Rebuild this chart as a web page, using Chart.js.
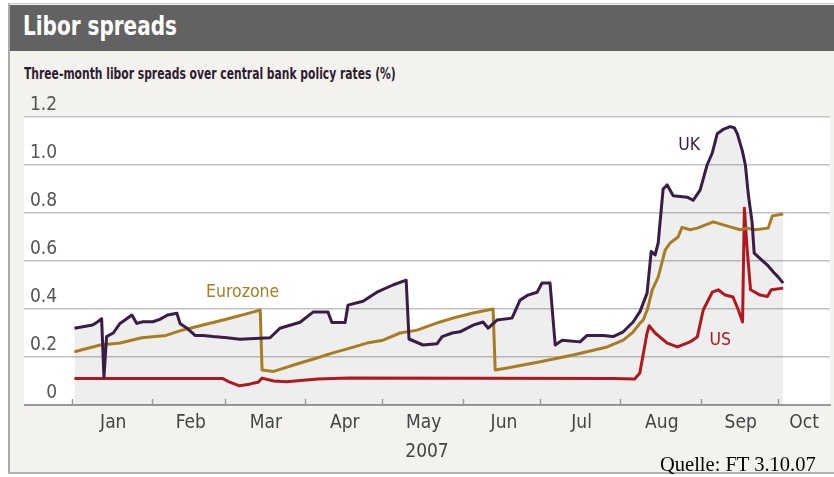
<!DOCTYPE html>
<html>
<head>
<meta charset="utf-8">
<script src="https://cdn.jsdelivr.net/npm/chart.js@4/dist/chart.umd.min.js"></script>
<style>
  body { margin: 0; background: #fff; width: 834px; height: 477px; position: relative; overflow: hidden; }
  #frame { position: absolute; left: 8px; top: 3px; width: 826px; height: 471px; background: #f4f2ee;
           border-left: 2px solid #a9a9a9; border-top: 1px solid #c8c8c8; border-bottom: 2px solid #b5b5b5; box-sizing: border-box; }
  #bar { position: absolute; left: 10px; top: 5px; width: 824px; height: 46px; background: #626262; }
  #bar span { position: absolute; left: 13px; top: 6px; color: #fff; white-space: nowrap;
              font: bold 26px 'DejaVu Sans Condensed', 'DejaVu Sans', sans-serif;
              transform: scaleX(0.855); transform-origin: 0 0; }
  #sub { position: absolute; left: 24px; top: 64px; color: #2e1d2e; white-space: nowrap;
         font: bold 16.5px 'DejaVu Sans Condensed', 'DejaVu Sans', sans-serif;
         transform: scaleX(0.725); transform-origin: 0 0; }
  #chart { position: absolute; left: 24px; top: 90px; }
  #src { position: absolute; left: 660px; top: 453px; color: #000; font: 20.5px 'Liberation Serif', serif; }
</style>
</head>
<body>
<div id="frame"></div>
<div id="bar"><span>Libor spreads</span></div>
<div id="sub">Three-month libor spreads over central bank policy rates (%)</div>
<canvas id="chart" width="810" height="387"></canvas>
<div id="src">Quelle: FT 3.10.07</div>
<script>
  'use strict';

  // x = days since 1 Jan 2007, y = spread in %
  const ukPoints = [
    [1, 0.32], [8, 0.333], [10, 0.347], [11.5, 0.36], [12.4, 0.115], [13.4, 0.285], [16, 0.30], [18.6, 0.34],
    [20.5, 0.354], [23.2, 0.375], [25.1, 0.34], [27.5, 0.347], [31.3, 0.347], [34, 0.357], [37, 0.375],
    [40.6, 0.382], [41.8, 0.34], [44.5, 0.32], [47.6, 0.29], [50.7, 0.29], [54.5, 0.285], [60, 0.28],
    [65, 0.274], [72.7, 0.278], [76.6, 0.28], [80.4, 0.32], [88.2, 0.345], [93.2, 0.387], [99, 0.387],
    [100.5, 0.344], [105.6, 0.344], [106.7, 0.416], [112.5, 0.432], [117.9, 0.47], [124.1, 0.5], [129.2, 0.52],
    [130.3, 0.275], [135.7, 0.25], [141.1, 0.255], [143.1, 0.285], [147, 0.30], [150, 0.305], [155.1, 0.333],
    [158.9, 0.346], [160.9, 0.32], [164.3, 0.354], [170.1, 0.362], [173.2, 0.437], [176.3, 0.458], [179.8, 0.47],
    [181.7, 0.508], [184.8, 0.508], [186.8, 0.25], [189.5, 0.27], [196.4, 0.263], [199.1, 0.29], [205.3, 0.29],
    [209.2, 0.285], [213.1, 0.305], [216.9, 0.346], [219.6, 0.39], [222.3, 0.466], [223.9, 0.64], [225.4, 0.625],
    [226.6, 0.675], [228.5, 0.9], [230.1, 0.917], [232.4, 0.872], [237.8, 0.866], [240.1, 0.853], [242.8, 0.895],
    [245.5, 1.0], [247.5, 1.05], [249.4, 1.13], [251.7, 1.148], [254.4, 1.16], [256, 1.155], [257.2, 1.13],
    [259.1, 1.06], [260.3, 1.0], [261.4, 0.88], [262.9, 0.76], [263.7, 0.633], [266, 0.61], [268.8, 0.583],
    [271.1, 0.554], [273, 0.533], [274.9, 0.508]
  ];

  const euroPoints = [
    [1, 0.222], [11, 0.25], [18.6, 0.258], [27, 0.28], [36.4, 0.29], [42, 0.31], [47.6, 0.325], [60, 0.358],
    [71, 0.39], [72.8, 0.396], [73.5, 0.146], [78, 0.14], [88.2, 0.175], [94.7, 0.196], [100.9, 0.217],
    [107.5, 0.237], [114, 0.258], [120.3, 0.27], [126.8, 0.3], [133.4, 0.312], [142.3, 0.346], [148.9, 0.367],
    [155, 0.383], [162.8, 0.4], [163.6, 0.146], [168.2, 0.154], [181, 0.18], [193.7, 0.208], [206.9, 0.242],
    [213.1, 0.27], [216.9, 0.304], [219.6, 0.341], [220.8, 0.354], [222.5, 0.4], [224.3, 0.48], [226.6, 0.533],
    [229.3, 0.645], [231.2, 0.675], [234.3, 0.7], [235.8, 0.74], [238.9, 0.73], [241.7, 0.737], [247.9, 0.763],
    [254.4, 0.742], [258.3, 0.73], [261, 0.737], [264.1, 0.73], [269.1, 0.737], [270.7, 0.788], [274.9, 0.796]
  ];

  const usPoints = [
    [1, 0.11], [58.4, 0.11], [61, 0.095], [64.8, 0.08], [68, 0.085], [70.5, 0.092], [72, 0.095], [73.5, 0.112],
    [78, 0.1], [83, 0.097], [95, 0.108], [107, 0.112], [209, 0.11], [217.5, 0.108], [219.5, 0.133], [222.3, 0.3],
    [223.1, 0.33], [225.4, 0.3], [230.1, 0.258], [234, 0.242], [238.9, 0.263], [241.7, 0.283], [244, 0.396],
    [247.5, 0.47], [249.8, 0.48], [252.5, 0.458], [255.5, 0.45], [257.6, 0.396], [259.2, 0.346], [259.9, 0.82],
    [261, 0.646], [262.3, 0.48], [266, 0.458], [268.8, 0.452], [270.3, 0.48], [274.9, 0.487]
  ];

  const monthLabels = ['Jan', 'Feb', 'Mar', 'Apr', 'May', 'Jun', 'Jul', 'Aug', 'Sep', 'Oct'];
  const monthLabelDays = [16, 46, 75, 105.5, 136, 167, 197, 228, 258.5, 283];
  const monthStarts = [0, 31, 59, 90, 120, 151, 181, 212, 243, 273];
  const yTickLabels = ['0', '0.2', '0.4', '0.6', '0.8', '1.0', '1.2'];

  const seriesNames = ['UK', 'Eurozone', 'US'];
  const seriesColors = ['#3b1c46', '#a97c22', '#b01820'];
  // where each series name is written, in data units
  const nameAnchors = [[238.6, 1.083], [66, 0.467], [250.6, 0.267]];

  const shade = 'rgba(0,0,0,0.065)';
  const condensed = "'DejaVu Sans Condensed', 'DejaVu Sans', sans-serif";

  function toXY(points) {
    return points.map(p => ({ x: p[0], y: p[1] }));
  }

  const decor = {
    id: 'decor',
    beforeDraw(chart) {
      const { ctx, chartArea: a } = chart;
      ctx.save();
      ctx.fillStyle = '#fff';
      ctx.fillRect(a.left, a.top, a.right - a.left, a.bottom - a.top);
      ctx.restore();
    },
    afterDatasetsDraw(chart) {
      const { ctx, scales: { x, y } } = chart;
      ctx.save();
      ctx.font = '17.5px ' + condensed;
      ctx.textAlign = 'center';
      ctx.textBaseline = 'middle';
      nameAnchors.forEach((p, i) => {
        ctx.fillStyle = seriesColors[i];
        ctx.fillText(seriesNames[i], x.getPixelForValue(p[0]), y.getPixelForValue(p[1]));
      });
      ctx.restore();
    },
    afterDraw(chart) {
      const { ctx, chartArea: a, scales: { x } } = chart;
      ctx.save();
      ctx.strokeStyle = '#9a9a9a';
      ctx.lineWidth = 1.5;
      monthStarts.forEach(d => {
        const px = Math.round(x.getPixelForValue(d)) + 0.5;
        ctx.beginPath();
        ctx.moveTo(px, a.bottom - 6);
        ctx.lineTo(px, a.bottom);
        ctx.stroke();
      });
      ctx.restore();
    }
  };

  const ctx = document.getElementById('chart').getContext('2d');
  new Chart(ctx, {
    type: 'line',
    data: {
      datasets: [
        {
          label: seriesNames[0],
          data: toXY(ukPoints),
          borderColor: seriesColors[0],
          backgroundColor: shade,
          fill: 'origin'
        },
        {
          label: seriesNames[1],
          data: toXY(euroPoints),
          borderColor: seriesColors[1],
          fill: { target: 0, above: shade, below: 'rgba(0,0,0,0)' }
        },
        {
          label: seriesNames[2],
          data: toXY(usPoints),
          borderColor: seriesColors[2],
          fill: false
        }
      ]
    },
    options: {
      responsive: false,
      animation: false,
      layout: { padding: { top: 27, right: 4, left: 0, bottom: 0 } },
      elements: {
        point: { radius: 0 },
        line: { borderWidth: 3, tension: 0, borderJoinStyle: 'round' }
      },
      plugins: {
        legend: { display: false },
        tooltip: { enabled: false },
        filler: { drawTime: 'beforeDatasetsDraw' }
      },
      scales: {
        x: {
          type: 'linear',
          min: -18.5,
          max: 293,
          afterFit: s => { s.height = 72; },
          afterBuildTicks: s => { s.ticks = monthLabelDays.map(v => ({ value: v })); },
          grid: { drawOnChartArea: false, drawTicks: false },
          border: { display: true, color: '#9a9a9a', width: 2 },
          ticks: {
            autoSkip: false,
            maxRotation: 0,
            padding: 7,
            color: '#444',
            font: { family: condensed, size: 19 },
            callback: (v, i) => monthLabels[i]
          },
          title: {
            display: true,
            text: '2007',
            color: '#444',
            font: { family: condensed, size: 19 },
            padding: { top: 4, bottom: 14 }
          }
        },
        y: {
          min: 0,
          max: 1.2,
          afterFit: s => { s.width = 0; },
          grid: { color: '#c2c2c2', lineWidth: 1.5, drawTicks: false },
          border: { display: false },
          ticks: {
            stepSize: 0.2,
            mirror: true,
            crossAlign: 'far',
            padding: 6,
            labelOffset: -12,
            color: '#555',
            font: { family: condensed, size: 19 },
            callback: (v, i) => yTickLabels[i]
          }
        }
      }
    },
    plugins: [decor]
  });
</script>
</body>
</html>
